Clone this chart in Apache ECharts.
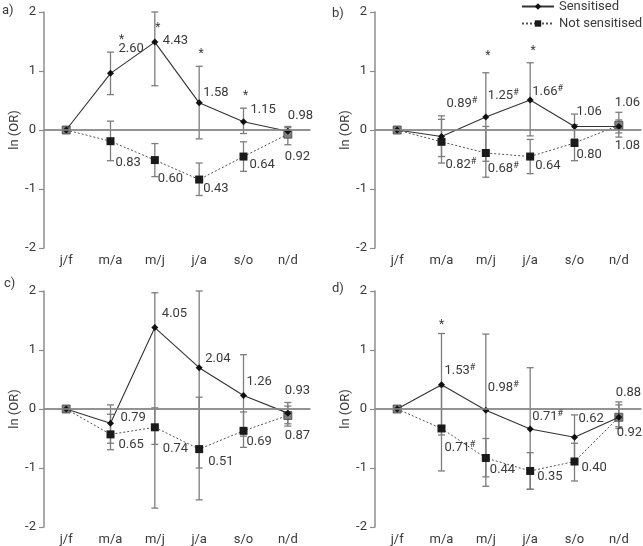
<!DOCTYPE html>
<html><head><meta charset="utf-8">
<script src="https://cdn.jsdelivr.net/npm/echarts@6/dist/echarts.min.js"></script>
<style>html,body{margin:0;padding:0;background:#fff}#c{width:643px;height:546px}</style>
</head><body><div id="c"></div>
<script>
// ---------- DATA ----------
const categories = ['j/f', 'm/a', 'm/j', 'j/a', 's/o', 'n/d'];
const yTicks = [-2, -1, 0, 1, 2];
const seriesNames = ['Sensitised', 'Not sensitised'];

// Panel a
const aSens = [0, 0.96, 1.49, 0.46, 0.14, -0.02];
const aSensLow = [null, 0.60, 0.75, -0.15, -0.06, -0.12];
const aSensHigh = [null, 1.32, 2.00, 1.08, 0.37, 0.06];
const aSensLabels = ['', '2.60', '4.43', '1.58', '1.15', '0.98'];
const aSensSig = ['', '*', '*', '*', '*', ''];
const aNot = [0, -0.19, -0.51, -0.84, -0.45, -0.07];
const aNotLow = [null, -0.52, -0.79, -1.11, -0.70, -0.25];
const aNotHigh = [null, 0.15, -0.23, -0.56, -0.20, 0.04];
const aNotLabels = ['', '0.83', '0.60', '0.43', '0.64', '0.92'];

// Panel b
const bSens = [0, -0.11, 0.22, 0.51, 0.06, 0.06];
const bSensLow = [null, -0.45, -0.53, -0.10, -0.15, -0.05];
const bSensHigh = [null, 0.24, 0.97, 1.14, 0.27, 0.17];
const bSensLabels = ['', '0.89#', '1.25#', '1.66#', '1.06', '1.06'];
const bSensSig = ['', '', '*', '*', '', ''];
const bNot = [0, -0.20, -0.39, -0.45, -0.22, 0.08];
const bNotLow = [null, -0.56, -0.80, -0.74, -0.52, -0.12];
const bNotHigh = [null, 0.18, 0.06, -0.16, 0.09, 0.30];
const bNotLabels = ['', '0.82#', '0.68#', '0.64', '0.80', '1.08'];

// Panel c
const cSens = [0, -0.24, 1.38, 0.70, 0.23, -0.07];
const cSensLow = [null, -0.58, -1.68, -1.00, -0.46, -0.25];
const cSensHigh = [null, 0.07, 1.97, 2.00, 0.92, 0.11];
const cSensLabels = ['', '0.79', '4.05', '2.04', '1.26', '0.93'];
const cSensSig = ['', '', '', '', '', ''];
const cNot = [0, -0.43, -0.31, -0.68, -0.37, -0.11];
const cNotLow = [null, -0.69, -0.60, -1.54, -0.65, -0.29];
const cNotHigh = [null, -0.09, 0.02, 0.20, -0.05, 0.05];
const cNotLabels = ['', '0.65', '0.74', '0.51', '0.69', '0.87'];

// Panel d
const dSens = [0, 0.41, -0.02, -0.34, -0.48, -0.14];
const dSensLow = [null, -0.44, -1.31, -1.36, -0.84, -0.33];
const dSensHigh = [null, 1.28, 1.27, 0.70, -0.10, 0.12];
const dSensLabels = ['', '1.53#', '0.98#', '0.71#', '0.62', '0.88'];
const dSensSig = ['', '*', '', '', '', ''];
const dNot = [0, -0.33, -0.83, -1.05, -0.89, -0.14];
const dNotLow = [null, -1.05, -1.15, -1.36, -1.22, -0.30];
const dNotHigh = [null, 0.38, -0.50, -0.74, -0.58, 0.07];
const dNotLabels = ['', '0.71#', '0.44', '0.35', '0.40', '0.92'];

// ---------- LAYOUT (positions / offsets, kept separate from data) ----------
const layout = {
  a: { grid: { left: 44, top: 12, width: 266, height: 236 }, tag: [8, 12],
       sensOff: [null, [8, -25], [8, -1], [4, -10], [7, -12], [0, -15]],
       notOff: [null, [5, 22], [3, 19], [4, 9], [6, 8], [-3, 23]],
       sigOff: [null, [11, -15], [3, 13], [2, -15], [2, -15], null] },
  b: { grid: { left: 375, top: 12, width: 266, height: 236 }, tag: [338, 15],
       sensOff: [null, [5, -33], [2, -21], [2, -8], [2, -15], [-4, -24]],
       notOff: [null, [4, 23], [2, 16], [5, 9], [2, 12], [-4, 20]],
       sigOff: [null, null, [2, -20], [3, -15], null, null] },
  c: { grid: { left: 44, top: 291, width: 266, height: 236 }, tag: [10, 285],
       sensOff: [null, [10, -5], [7, -14], [6, -9], [3, -14], [-3, -22]],
       notOff: [null, [8, 10], [8, 21], [9, 13], [3, 11], [-3, 20]],
       sigOff: [null, null, null, null, null, null] },
  d: { grid: { left: 375, top: 291, width: 266, height: 236 }, tag: [338, 290],
       sensOff: [null, [3, -14], [2, -22], [2, -12], [4, -19], [-3, -25]],
       notOff: [null, [3, 19], [4, 12], [7, 6], [7, 6], [-2, 15]],
       sigOff: [null, [0, -11], null, null, null, null] }
};
// marker indexes where the two series overlap (drawn lighter, as in the reference)
const overlapIdx = [0, 5];

const panels = [
  { id: 'a', sens: aSens, sensLow: aSensLow, sensHigh: aSensHigh, sensLabels: aSensLabels, sig: aSensSig,
    not: aNot, notLow: aNotLow, notHigh: aNotHigh, notLabels: aNotLabels },
  { id: 'b', sens: bSens, sensLow: bSensLow, sensHigh: bSensHigh, sensLabels: bSensLabels, sig: bSensSig,
    not: bNot, notLow: bNotLow, notHigh: bNotHigh, notLabels: bNotLabels },
  { id: 'c', sens: cSens, sensLow: cSensLow, sensHigh: cSensHigh, sensLabels: cSensLabels, sig: cSensSig,
    not: cNot, notLow: cNotLow, notHigh: cNotHigh, notLabels: cNotLabels },
  { id: 'd', sens: dSens, sensLow: dSensLow, sensHigh: dSensHigh, sensLabels: dSensLabels, sig: dSensSig,
    not: dNot, notLow: dNotLow, notHigh: dNotHigh, notLabels: dNotLabels }
];

// ---------- STYLE ----------
const FONT = 'Roboto, "Noto Sans", sans-serif';
const TXT = '#3a3a3a';
const AXIS = '#8c8c8c';
const BAR = '#7d7d7d';

const chart = echarts.init(document.getElementById('c'), null, { renderer: 'canvas' });

const grids = [], xAxes = [], yAxes = [], series = [], graphics = [];

function richText(s) {
  if (s.endsWith('#')) return s.slice(0, -1) + '{h|#}';
  return s;
}

panels.forEach((p, k) => {
  const L = layout[p.id];
  grids.push(Object.assign({ containLabel: false }, L.grid));
  xAxes.push({
    gridIndex: k, type: 'category', data: categories, boundaryGap: true,
    axisLine: { lineStyle: { color: AXIS, width: 1.5 } },
    axisTick: { show: false },
    axisLabel: { color: TXT, fontSize: 13, fontFamily: FONT, margin: 6 },
    splitLine: { show: false }
  });
  yAxes.push({
    gridIndex: k, type: 'value', min: yTicks[0], max: yTicks[yTicks.length - 1], interval: 1,
    name: 'ln (OR)', nameLocation: 'middle', nameGap: 21,
    nameTextStyle: { color: TXT, fontSize: 13, fontFamily: FONT },
    axisLine: { show: true, lineStyle: { color: AXIS, width: 1.5 } },
    axisTick: { show: true, length: 5, lineStyle: { color: AXIS, width: 1.2 } },
    axisLabel: { color: TXT, fontSize: 13, fontFamily: FONT, margin: 8 },
    splitLine: { show: false }
  });

  const groups = [
    { low: p.sensLow, high: p.sensHigh },
    { low: p.notLow, high: p.notHigh }
  ];
  // error bars
  groups.forEach((g) => {
    const d = [];
    g.low.forEach((lo, i) => { if (lo !== null) d.push([i, lo, g.high[i]]); });
    series.push({
      type: 'custom', xAxisIndex: k, yAxisIndex: k, z: 1, silent: true,
      encode: { x: 0, y: [1, 2] }, data: d,
      renderItem: function (params, api) {
        const x = api.value(0);
        const a = api.coord([x, api.value(1)]);
        const b = api.coord([x, api.value(2)]);
        const cw = 3.5, st = { stroke: BAR, lineWidth: 1.3 };
        return { type: 'group', children: [
          { type: 'line', shape: { x1: a[0], y1: a[1], x2: b[0], y2: b[1] }, style: st },
          { type: 'line', shape: { x1: a[0] - cw, y1: a[1], x2: a[0] + cw, y2: a[1] }, style: st },
          { type: 'line', shape: { x1: b[0] - cw, y1: b[1], x2: b[0] + cw, y2: b[1] }, style: st }
        ] };
      }
    });
  });

  // lines with markers
  series.push({
    name: seriesNames[0], type: 'line', xAxisIndex: k, yAxisIndex: k, z: 3,
    data: p.sens, symbol: 'diamond', symbolSize: 7, showAllSymbol: true,
    lineStyle: { color: '#333', width: 1.1 }, itemStyle: { color: '#111' },
    markLine: { silent: true, symbol: 'none', label: { show: false }, animation: false,
      lineStyle: { color: AXIS, width: 1.5, type: 'solid' }, data: [{ yAxis: 0 }] },
    emphasis: { disabled: true }
  });
  series.push({
    name: seriesNames[1], type: 'line', xAxisIndex: k, yAxisIndex: k, z: 2,
    data: p.not.map((v, i) => overlapIdx.indexOf(i) >= 0
      ? { value: v, itemStyle: { color: '#808080', borderColor: '#444', borderWidth: 0.8 } } : v),
    symbol: 'rect', symbolSize: 8, showAllSymbol: true,
    lineStyle: { color: '#555', width: 1, type: [2, 2] }, itemStyle: { color: '#1a1a1a' },
    emphasis: { disabled: true }
  });

  // value labels + significance marks
  const lab = [];
  p.sens.forEach((v, i) => { if (p.sensLabels[i]) lab.push([i, v, 0]); });
  p.not.forEach((v, i) => { if (p.notLabels[i]) lab.push([i, v, 1]); });
  series.push({
    type: 'custom', xAxisIndex: k, yAxisIndex: k, z: 5, silent: true, clip: false,
    encode: { x: 0, y: 1 }, data: lab,
    renderItem: function (params, api) {
      const i = api.value(0), v = api.value(1), which = api.value(2);
      const pt = api.coord([i, v]);
      const off = which === 0 ? L.sensOff[i] : L.notOff[i];
      const txt = which === 0 ? p.sensLabels[i] : p.notLabels[i];
      const children = [{
        type: 'text', x: pt[0] + off[0], y: pt[1] + off[1],
        style: { text: richText(txt), fill: TXT, font: '13px ' + FONT, align: 'left', verticalAlign: 'middle',
          rich: { h: { fontSize: 9, fontFamily: FONT, fill: TXT, verticalAlign: 'top', padding: [0, 0, 6, 0] } } }
      }];
      if (which === 0 && p.sig[i]) {
        const so = L.sigOff[i];
        const top = api.coord([i, p.sensHigh[i]]);
        children.push({ type: 'text', x: top[0] + so[0], y: top[1] + so[1] + 3,
          style: { text: p.sig[i], fill: TXT, font: '12px ' + FONT, align: 'center', verticalAlign: 'middle' } });
      }
      return { type: 'group', children: children };
    }
  });

  graphics.push({ type: 'text', left: L.tag[0] - 6, top: L.tag[1] - 8,
    style: { text: p.id + ')', fill: TXT, font: '13px ' + FONT } });
});

chart.setOption({
  animation: false,
  backgroundColor: '#fff',
  textStyle: { fontFamily: FONT },
  grid: grids, xAxis: xAxes, yAxis: yAxes, series: series,
  graphic: graphics,
  legend: {
    data: seriesNames, orient: 'vertical', left: 521, top: 0, padding: 0,
    itemWidth: 32, itemHeight: 8, itemGap: 4,
    textStyle: { color: TXT, fontSize: 13, fontFamily: FONT }
  }
});
</script></body></html>
